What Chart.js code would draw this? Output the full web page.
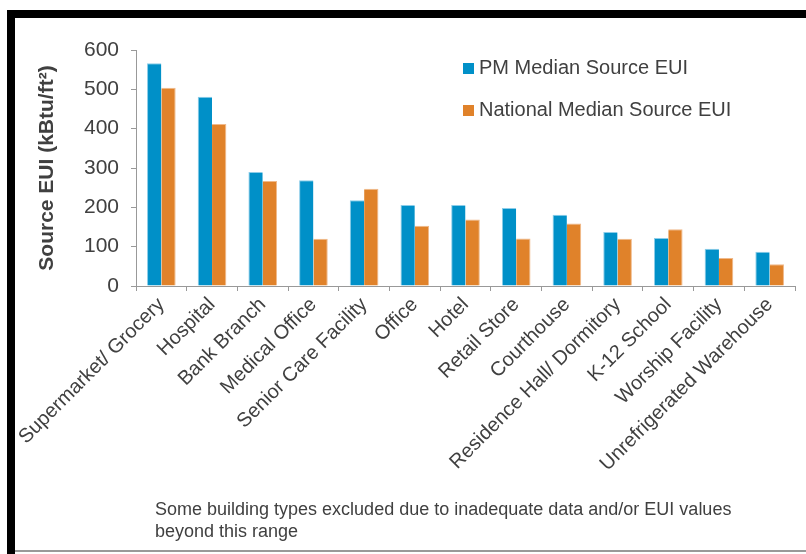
<!DOCTYPE html>
<html>
<head>
<meta charset="utf-8">
<script src="https://cdn.jsdelivr.net/npm/chart.js@4"></script>
<style>
  body { margin: 0; background: #fff; }
  #wrap { position: relative; width: 806px; height: 554px; overflow: hidden; }
  #frameTop { position: absolute; left: 7px; top: 10px; width: 799px; height: 8px; background: #000; }
  #frameLeft { position: absolute; left: 7px; top: 10px; width: 8px; height: 544px; background: #000; }
  #frameBottom { position: absolute; left: 15px; top: 550px; width: 791px; height: 2px; background: #999; }
  #note { position: absolute; left: 155px; top: 498px; font: 18px "Liberation Sans", Arial, sans-serif; line-height: 22px; color: #404040; }
  canvas { position: absolute; left: 0; top: 0; }
</style>
</head>
<body>
<div id="wrap">
  <canvas id="myChart" width="806" height="554"></canvas>
  <div id="frameTop"></div>
  <div id="frameLeft"></div>
  <div id="frameBottom"></div>
  <div id="note">Some building types excluded due to inadequate data and/or EUI values<br>beyond this range</div>
</div>
<script>
const buildingTypes = [
  "Supermarket/ Grocery", "Hospital", "Bank Branch", "Medical Office",
  "Senior Care Facility", "Office", "Hotel", "Retail Store", "Courthouse",
  "Residence Hall/ Dormitory", "K-12 School", "Worship Facility",
  "Unrefrigerated Warehouse",
];
const pmMedian = [566, 481, 290, 269, 218, 206, 206, 198, 181, 137, 122, 95, 87];
const nationalMedian = [504, 412, 267, 120, 247, 153, 169, 121, 159, 120, 144, 71, 55];
const yTicks = [0, 100, 200, 300, 400, 500, 600];

const FONT = "'Liberation Sans', Arial, sans-serif";
const TEXT = "#404040";

// legend drawn as two stacked rows in the upper right
const sideLegend = {
  id: "sideLegend",
  afterDraw(chart) {
    const c = chart.ctx;
    c.save();
    c.font = "20px " + FONT;
    c.textBaseline = "middle";
    chart.data.datasets.forEach((ds, i) => {
      const y = 68 + i * 42;
      c.fillStyle = ds.backgroundColor;
      c.fillRect(463, y - 5, 11, 11);
      c.fillStyle = TEXT;
      c.fillText(ds.label, 479, y);
    });
    c.restore();
  },
};

const ctx = document.getElementById("myChart");

new Chart(ctx, {
  type: "bar",
  data: {
    labels: buildingTypes,
    datasets: [
      {
        label: "PM Median Source EUI",
        data: pmMedian,
        backgroundColor: "#0090C8",
        borderColor: "#8ccde9",
        borderWidth: { top: 1, left: 1, right: 0, bottom: 0 },
      },
      {
        label: "National Median Source EUI",
        data: nationalMedian,
        backgroundColor: "#E0822A",
        borderColor: "#f0b98a",
        borderWidth: { top: 1, left: 0, right: 1, bottom: 0 },
      },
    ],
  },
  options: {
    responsive: false,
    animation: false,
    devicePixelRatio: 1,
    layout: { padding: { top: 50, right: 11, left: 0, bottom: 68 } },
    datasets: { bar: { categoryPercentage: 0.565, barPercentage: 1 } },
    plugins: { legend: { display: false }, tooltip: { enabled: false } },
    scales: {
      x: {
        grid: { drawOnChartArea: false, tickLength: 5, color: "#999", offset: true },
        border: { color: "#999" },
        ticks: {
          autoSkip: false,
          minRotation: 45,
          maxRotation: 45,
          padding: 2,
          color: TEXT,
          font: { family: FONT, size: 20 },
        },
        afterFit(scale) { scale.height = 200; },
      },
      y: {
        min: 0,
        max: 600,
        afterBuildTicks(scale) { scale.ticks = yTicks.map(v => ({ value: v })); },
        grid: { drawOnChartArea: false, tickLength: 5, color: "#999" },
        border: { color: "#999" },
        ticks: { padding: 12, color: TEXT, font: { family: FONT, size: 21 } },
        title: {
          display: true,
          text: "Source EUI (kBtu/ft²)",
          color: TEXT,
          font: { family: FONT, size: 21, weight: "bold" },
          padding: { top: 35, bottom: 0 },
        },
        afterFit(scale) { scale.width = 136; },
      },
    },
  },
  plugins: [sideLegend],
});
</script>
</body>
</html>
